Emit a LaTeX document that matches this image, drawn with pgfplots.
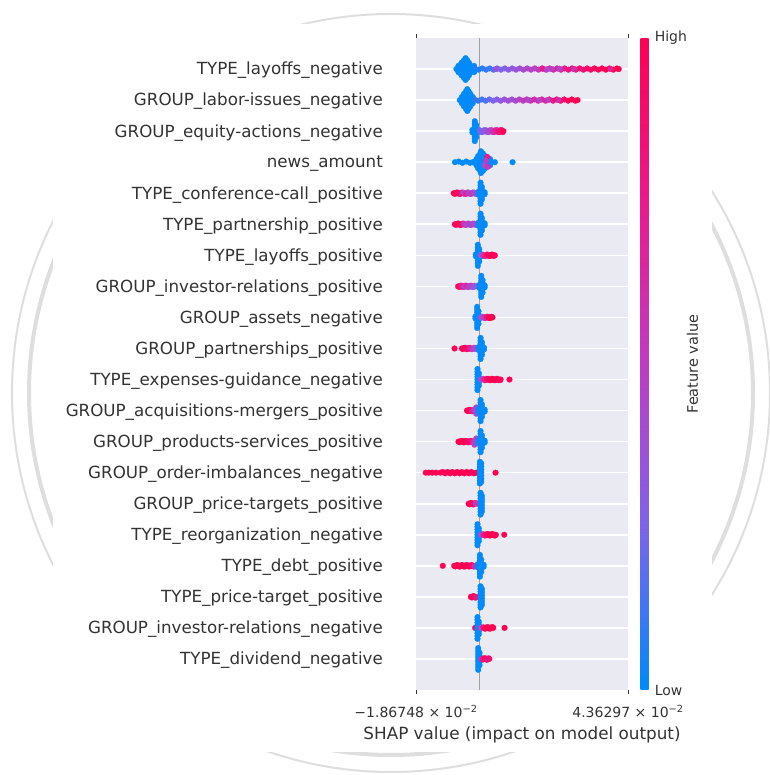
\documentclass[border=0pt]{standalone}
\usepackage{pgfplots}
\pgfplotsset{compat=1.18}
\usepackage{fontspec}
\setmainfont{DejaVu Sans}
\definecolor{txt}{HTML}{333333}
\definecolor{panel}{HTML}{EAEAF2}
\definecolor{ring}{HTML}{DEDEDE}
\definecolor{zeroline}{HTML}{A0A0A0}
\definecolor{lowblue}{RGB}{0,138,250}
\pgfplotsset{
  colormap={shapredblue}{rgb255(0)=(0,138,250) rgb255(0.25)=(125,100,235) rgb255(0.5)=(190,60,195) rgb255(0.75)=(235,25,140) rgb255(1)=(255,0,82)},
  bee/.style={scatter, only marks, mark=*, mark size=2.9pt, scatter src=explicit,
    scatter/use mapped color={draw=mapped color, fill=mapped color}, mark options={line width=0.2pt}},
  low/.style={only marks, mark=*, mark size=2.9pt, color=lowblue, mark options={line width=0.2pt}},
}
\begin{document}
\begin{tikzpicture}
\path[use as bounding box] (0pt,0pt) rectangle (769pt,775pt);
% ring decoration behind the chart panel
\draw[ring, line width=2pt] (391pt,382pt) circle[radius=379pt];
\draw[ring, line width=4pt] (391pt,382pt) circle[radius=362pt];
\fill[white] (53pt,23pt) rectangle (712pt,751pt);
\begin{axis}[
  at={(416pt,85pt)}, anchor=south west, scale only axis, width=212pt, height=652pt,
  xmin=-18.6748, xmax=43.6297, ymin=0, ymax=21,
  point meta min=0, point meta max=1,
  colormap name=shapredblue,
  axis background/.style={fill=panel},
  axis line style={draw=none},
  tick align=outside, major tick length=4pt,
  xtick={-18.6748,43.6297},
  xticklabels={{−1.86748 × 10\textsuperscript{−2}},{4.36297 × 10\textsuperscript{−2}}},
  xtick style={draw=txt, line width=0.9pt},
  ytick style={draw=none},
  ytick={1,...,20},
  yticklabels={TYPE\_dividend\_negative, GROUP\_investor-relations\_negative, TYPE\_price-target\_positive, TYPE\_debt\_positive, TYPE\_reorganization\_negative, GROUP\_price-targets\_positive, GROUP\_order-imbalances\_negative, GROUP\_products-services\_positive, GROUP\_acquisitions-mergers\_positive, TYPE\_expenses-guidance\_negative, GROUP\_partnerships\_positive, GROUP\_assets\_negative, GROUP\_investor-relations\_positive, TYPE\_layoffs\_positive, TYPE\_partnership\_positive, TYPE\_conference-call\_positive, news\_amount, GROUP\_equity-actions\_negative, GROUP\_labor-issues\_negative, TYPE\_layoffs\_negative},
  yticklabel style={font=\fontsize{16.7}{20}\selectfont, text=txt, anchor=east, inner sep=0pt, xshift=-29pt, yshift=-1.5pt},
  xticklabel style={font=\fontsize{14}{17}\selectfont, text=txt, anchor=base, inner sep=0pt, yshift=-24pt},
  xlabel={SHAP value (impact on model output)},
  xlabel style={font=\fontsize{16.8}{20}\selectfont, text=txt, at={(axis description cs:0.5,0)}, anchor=base, inner sep=0pt, yshift=-49pt},
  ymajorgrids, grid style={draw=white, line width=1.6pt},
  colorbar,
  colorbar style={
    at={(parent axis.north east)}, anchor=north west, xshift=4pt,
    width=8pt, scale only axis,
    axis line style={draw=none}, major tick length=0pt,
    ytick={0,1}, yticklabels={Low,High},
    yticklabel style={font=\fontsize{14}{17}\selectfont, text=txt, inner sep=0pt, xshift=6pt},
    ylabel={Feature value},
    ylabel style={font=\fontsize{14.5}{17}\selectfont, text=txt, at={(axis description cs:6.5,0.5)}, anchor=center},
  },
]
% zero reference line
\addplot[zeroline, line width=1.6pt] coordinates {(0,0) (0,21)};

% TYPE_layoffs_negative
\addplot[low] coordinates {(-6.8,20) (-5.6,20) (-4.4,20) (-3.2,20) (-2.0,20)
 (-6.2,20.1) (-5.0,20.1) (-3.8,20.1) (-2.6,20.1) (-1.6,20.1) (-6.2,19.9) (-5.0,19.9) (-3.8,19.9) (-2.6,19.9) (-1.6,19.9)
 (-5.3,20.2) (-4.2,20.2) (-3.1,20.2) (-5.3,19.8) (-4.2,19.8) (-3.1,19.8)
 (-4.6,20.28) (-3.6,20.28) (-4.6,19.72) (-3.6,19.72) (-4.1,20.35) (-4.1,19.65)};
\addplot[bee] coordinates {(-1.4,20.02)[0.05] (-0.3,19.98)[0.05] (0.8,20.02)[0.08] (1.9,19.98)[0.1] (3.0,20.02)[0.12] (4.1,19.98)[0.15] (5.2,20.02)[0.2] (6.3,19.98)[0.25] (7.4,20.02)[0.28] (8.5,19.98)[0.3] (9.6,20.02)[0.32] (10.7,19.98)[0.35] (11.8,20.02)[0.38] (12.9,19.98)[0.42] (14.0,20.02)[0.45] (15.1,19.98)[0.47] (16.2,20.02)[0.48] (17.3,19.98)[0.52] (18.4,20.02)[0.6] (19.5,19.98)[0.65] (20.6,20.02)[0.62] (21.7,19.98)[0.7] (22.8,20.02)[0.68] (23.9,19.98)[0.72] (25.0,20.02)[0.75] (26.1,19.98)[0.8] (27.2,20.02)[0.82] (28.3,19.98)[0.85] (29.4,20.02)[0.88] (30.5,19.98)[0.86] (31.6,20.02)[0.9] (32.7,19.98)[0.93] (33.8,20.02)[0.95] (34.9,19.98)[0.97] (36.0,20.02)[0.98] (37.1,19.98)[1] (38.2,20.02)[1] (39.3,19.98)[1] (40.4,20.02)[1] (40.9,20)[1]
 (4.9,20)[0.35] (18.6,20.01)[0.78] (19.8,19.99)[0.45] (21.2,20)[0.5] (23.5,20.01)[0.45] (27.8,20)[0.6] (38.5,20)[0.7]};

% GROUP_labor-issues_negative
\addplot[low] coordinates {(-5.8,19) (-4.7,19) (-3.6,19) (-2.5,19)
 (-5.2,19.1) (-4.1,19.1) (-3.0,19.1) (-2.0,19.1) (-5.2,18.9) (-4.1,18.9) (-3.0,18.9) (-2.0,18.9)
 (-4.6,19.2) (-3.6,19.2) (-2.7,19.2) (-4.6,18.8) (-3.6,18.8) (-2.7,18.8)
 (-4.0,19.28) (-3.2,19.28) (-4.0,18.72) (-3.2,18.72) (-3.6,19.35) (-3.6,18.65)};
\addplot[bee] coordinates {(-1.5,19.02)[0.08] (-0.4,18.98)[0.1] (0.7,19.02)[0.12] (1.8,18.98)[0.15] (2.9,19.02)[0.2] (4.0,18.98)[0.25] (5.1,19.02)[0.28] (6.2,18.98)[0.32] (7.3,19.02)[0.35] (8.4,18.98)[0.38] (9.5,19.02)[0.4] (10.6,18.98)[0.42] (11.7,19.02)[0.45] (12.8,18.98)[0.5] (13.9,19.02)[0.58] (15.0,18.98)[0.62] (16.1,19.02)[0.6] (17.2,18.98)[0.65] (18.3,19.02)[0.68] (19.4,18.98)[0.7] (20.5,19.02)[0.72] (21.6,18.98)[0.75] (22.7,19.02)[0.85] (23.8,18.98)[0.9] (24.9,19.02)[0.92] (26.0,18.98)[0.95] (27.1,19.02)[1] (28.2,18.98)[1] (28.8,19)[1]
 (14.4,19)[0.45] (17.6,19)[0.45] (20.0,19)[0.5] (23.2,19)[0.6]};

% GROUP_equity-actions_negative
\addplot[low] coordinates {(-1.4,17.68) (-1.4,17.76) (-1.4,17.84) (-1.4,17.92) (-1.4,18) (-1.4,18.08) (-1.4,18.16) (-1.4,18.24) (-1.4,18.32)
 (-1.0,17.8) (-1.0,17.9) (-1.0,18) (-1.0,18.1) (-1.0,18.2) (-2.1,18.04) (-2.1,17.96)};
\addplot[bee] coordinates {(0,18.03)[0.2] (0.9,17.97)[0.3] (1.8,18.03)[0.35] (2.7,17.97)[0.4] (3.5,18.03)[0.55] (4.3,17.97)[0.65] (5.1,18.03)[0.72] (5.9,17.97)[0.85] (6.5,18.03)[0.95] (7.0,18)[1]
 (0.45,17.97)[0.25] (1.35,18.03)[0.32] (2.25,17.97)[0.38] (3.1,18.03)[0.45] (3.9,17.97)[0.6] (4.7,18.03)[0.7] (5.5,17.97)[0.8] (6.2,18.03)[0.9] (6.8,17.97)[1]};

% news_amount
\addplot[low] coordinates {(-7.2,17) (-6.1,17.02) (-5.0,16.98) (-3.9,17.02) (-2.8,16.98) (-2.0,17)
 (-1.5,17) (-0.5,17) (0.5,17) (1.5,17) (2.5,17) (3.5,17) (4.5,17)
 (-0.9,17.1) (0.1,17.1) (1.1,17.1) (2.1,17.1) (3.1,17.1) (-0.9,16.9) (0.1,16.9) (1.1,16.9) (2.1,16.9) (3.1,16.9)
 (-0.4,17.2) (0.6,17.2) (1.6,17.2) (-0.4,16.8) (0.6,16.8) (1.6,16.8)
 (0.2,17.28) (1.0,17.28) (0.2,16.72) (1.0,16.72) (0.4,17.35) (0.4,16.65) (9.7,17)};
\addplot[bee] coordinates {(2.25,17.17)[0.75] (1.5,16.9)[0.4] (2.45,16.85)[0.55] (1.9,17.05)[0.5]};

% TYPE_conference-call_positive
\addplot[bee] coordinates {(-7.6,16)[1] (-6.8,16.02)[1] (-6.0,15.98)[0.95] (-5.2,16.02)[0.8] (-4.4,15.98)[0.7] (-3.6,16.02)[0.75] (-2.8,15.98)[0.6] (-2.0,16.02)[0.5] (-1.2,15.98)[0.35] (-0.5,16)[0.2]
 (-7.2,15.98)[1] (-6.4,16.02)[0.95] (-5.6,15.98)[0.85] (-4.8,16.02)[0.45] (-4.0,15.98)[0.7] (-3.2,16.02)[0.45] (-2.4,15.98)[0.55] (-1.6,16.02)[0.4]};
\addplot[low] coordinates {(0.3,15.66) (0.3,15.745) (0.3,15.83) (0.3,15.915) (0.3,16) (0.3,16.085) (0.3,16.17) (0.3,16.255) (0.3,16.34)
 (0.7,15.8) (0.7,15.9) (0.7,16) (0.7,16.1) (0.7,16.2) (1.5,16.03) (1.5,15.97) (-0.3,16.05) (-0.3,15.95)};

% TYPE_partnership_positive
\addplot[bee] coordinates {(-7.25,15)[1] (-6.5,15.02)[1] (-5.75,14.98)[1] (-5.0,15.02)[0.85] (-4.25,14.98)[0.5] (-3.5,15.02)[0.45] (-2.75,14.98)[0.6] (-2.0,15.02)[0.45] (-1.25,14.98)[0.35] (-0.6,15)[0.2]
 (-6.9,14.98)[1] (-6.1,15.02)[0.95] (-5.4,14.98)[0.9] (-4.6,15.02)[0.55] (-3.9,14.98)[0.4] (-3.1,15.02)[0.5] (-2.4,14.98)[0.45] (-1.6,15.02)[0.4]};
\addplot[low] coordinates {(0.3,14.66) (0.3,14.745) (0.3,14.83) (0.3,14.915) (0.3,15) (0.3,15.085) (0.3,15.17) (0.3,15.255) (0.3,15.34)
 (0.7,14.8) (0.7,14.9) (0.7,15) (0.7,15.1) (0.7,15.2) (1.5,15.03) (1.5,14.97) (-0.3,15.05) (-0.3,14.95)};

% TYPE_layoffs_positive
\addplot[low] coordinates {(-0.5,13.66) (-0.5,13.745) (-0.5,13.83) (-0.5,13.915) (-0.5,14) (-0.5,14.085) (-0.5,14.17) (-0.5,14.255) (-0.5,14.34)
 (-0.1,13.8) (-0.1,13.9) (-0.1,14) (-0.1,14.1) (-0.1,14.2) (-1.1,14.03) (-1.1,13.97) (0.5,14.03) (0.5,13.97)};
\addplot[bee] coordinates {(0.3,14)[0.3] (1.0,14.02)[0.5] (1.7,13.98)[0.85] (2.4,14.02)[0.95] (3.1,13.98)[1] (3.8,14.02)[1] (4.5,14)[1]
 (1.4,13.98)[0.7] (2.1,14.02)[0.9] (2.8,13.98)[1] (3.5,14.02)[1] (4.2,13.98)[0.95]};

% GROUP_investor-relations_positive
\addplot[bee] coordinates {(-6.3,13)[1] (-5.6,13.02)[0.95] (-4.9,12.98)[0.8] (-4.2,13.02)[0.6] (-3.5,12.98)[0.45] (-2.8,13.02)[0.55] (-2.1,12.98)[0.4] (-1.4,13.02)[0.35] (-0.7,13)[0.25]
 (-5.9,12.98)[0.9] (-5.2,13.02)[0.7] (-4.5,12.98)[0.5] (-3.8,13.02)[0.65] (-3.1,12.98)[0.45] (-2.4,13.02)[0.5] (-1.7,12.98)[0.3]};
\addplot[low] coordinates {(0.5,12.66) (0.5,12.745) (0.5,12.83) (0.5,12.915) (0.5,13) (0.5,13.085) (0.5,13.17) (0.5,13.255) (0.5,13.34)
 (0.9,12.8) (0.9,12.9) (0.9,13) (0.9,13.1) (0.9,13.2) (1.5,13.03) (1.5,12.97) (0.0,13.05) (0.0,12.95)};

% GROUP_assets_negative
\addplot[low] coordinates {(-0.7,11.66) (-0.7,11.745) (-0.7,11.83) (-0.7,11.915) (-0.7,12) (-0.7,12.085) (-0.7,12.17) (-0.7,12.255) (-0.7,12.34)
 (-0.3,11.8) (-0.3,11.9) (-0.3,12) (-0.3,12.1) (-0.3,12.2) (-1.2,12.03) (-1.2,11.97)};
\addplot[bee] coordinates {(0.3,12)[0.3] (1.0,12.02)[0.45] (1.7,11.98)[0.7] (2.4,12.02)[0.9] (3.1,11.98)[1] (3.8,12)[1]
 (1.4,11.98)[0.55] (2.1,12.02)[0.85] (2.8,11.98)[1] (3.5,12.02)[1]};

% GROUP_partnerships_positive
\addplot[bee] coordinates {(-7.35,11)[1] (-5.2,11)[1] (-4.5,11.02)[1] (-3.8,10.98)[0.95] (-3.1,11.02)[0.85] (-2.4,10.98)[0.55] (-1.7,11.02)[0.45] (-1.0,10.98)[0.35] (-0.4,11)[0.2]
 (-4.85,10.98)[1] (-4.15,11.02)[0.95] (-3.45,10.98)[0.9] (-2.75,11.02)[0.7] (-2.05,10.98)[0.5] (-1.35,11.02)[0.4]};
\addplot[low] coordinates {(0.3,10.66) (0.3,10.745) (0.3,10.83) (0.3,10.915) (0.3,11) (0.3,11.085) (0.3,11.17) (0.3,11.255) (0.3,11.34)
 (0.7,10.8) (0.7,10.9) (0.7,11) (0.7,11.1) (0.7,11.2) (1.3,11.03) (1.3,10.97) (-0.2,11.05) (-0.2,10.95)};

% TYPE_expenses-guidance_negative
\addplot[low] coordinates {(-0.6,9.66) (-0.6,9.745) (-0.6,9.83) (-0.6,9.915) (-0.6,10) (-0.6,10.085) (-0.6,10.17) (-0.6,10.255) (-0.6,10.34)
 (-0.2,9.8) (-0.2,9.9) (-0.2,10) (-0.2,10.1) (-0.2,10.2)};
\addplot[bee] coordinates {(0.4,10)[0.35] (1.1,10.02)[0.55] (1.8,9.98)[0.85] (2.5,10.02)[0.95] (3.2,9.98)[1] (3.9,10.02)[1] (4.6,9.98)[1] (5.3,10.02)[1] (6.0,9.98)[1] (6.2,10)[0.95]
 (1.45,9.98)[0.7] (2.15,10.02)[0.9] (2.85,9.98)[1] (3.55,10.02)[1] (4.25,9.98)[1] (4.95,10.02)[1] (5.65,9.98)[1] (8.8,10)[1]};

% GROUP_acquisitions-mergers_positive
\addplot[bee] coordinates {(-3.7,9)[1] (-3.1,9.02)[1] (-2.5,8.98)[0.9] (-1.9,9.02)[0.6] (-1.3,8.98)[0.45] (-0.7,9)[0.35]
 (-3.4,8.98)[1] (-2.8,9.02)[0.95] (-2.2,8.98)[0.75] (-1.6,9.02)[0.5] (-1.0,8.98)[0.4] (-1.0,9.1)[0.4] (-1.0,8.9)[0.4]};
\addplot[low] coordinates {(0.3,8.66) (0.3,8.745) (0.3,8.83) (0.3,8.915) (0.3,9) (0.3,9.085) (0.3,9.17) (0.3,9.255) (0.3,9.34)
 (0.7,8.8) (0.7,8.9) (0.7,9) (0.7,9.1) (0.7,9.2) (1.5,9.03) (1.5,8.97) (-0.3,9.05) (-0.3,8.95)};

% GROUP_products-services_positive
\addplot[bee] coordinates {(-6.2,8)[1] (-5.5,8.02)[1] (-4.8,7.98)[1] (-4.1,8.02)[1] (-3.4,7.98)[0.95] (-2.7,8.02)[0.9] (-2.0,7.98)[0.6] (-1.3,8.02)[0.45] (-0.7,8)[0.35]
 (-5.85,7.98)[1] (-5.15,8.02)[1] (-4.45,7.98)[1] (-3.75,8.02)[0.95] (-3.05,7.98)[0.9] (-2.35,8.02)[0.8] (-1.65,7.98)[0.5] (-1.0,8.02)[0.4] (-1.0,8.1)[0.45] (-1.5,7.9)[0.45]};
\addplot[low] coordinates {(0.3,7.66) (0.3,7.745) (0.3,7.83) (0.3,7.915) (0.3,8) (0.3,8.085) (0.3,8.17) (0.3,8.255) (0.3,8.34)
 (0.7,7.8) (0.7,7.9) (0.7,8) (0.7,8.1) (0.7,8.2) (1.5,8.03) (1.5,7.97) (-0.3,8.05) (-0.3,7.95)};

% GROUP_order-imbalances_negative
\addplot[bee] coordinates {(-15.8,7)[1] (-14.9,7)[1] (-13.9,7)[1] (-12.8,7)[1] (-11.5,7)[1] (-10.8,7.02)[1] (-10.1,6.98)[1] (-9.4,7.02)[1] (-8.7,6.98)[1] (-8.0,7.02)[1] (-7.3,6.98)[1] (-6.6,7.02)[1] (-5.9,6.98)[1] (-5.2,7.02)[1] (-4.5,6.98)[1] (-3.8,7.02)[1] (-3.1,6.98)[1] (-2.4,7.02)[1] (-1.7,6.98)[1] (-1.0,7)[0.95] (4.7,7)[1]};
\addplot[low] coordinates {(0.1,6.65) (0.1,6.74) (0.1,6.83) (0.1,6.915) (0.1,7) (0.1,7.085) (0.1,7.17) (0.1,7.26) (0.1,7.35)
 (0.5,6.7) (0.5,6.8) (0.5,6.9) (0.5,7) (0.5,7.1) (0.5,7.2) (0.5,7.3)};

% GROUP_price-targets_positive
\addplot[bee] coordinates {(-3.2,6)[1] (-2.6,6.02)[1] (-2.0,5.98)[0.95] (-1.4,6.02)[0.7] (-0.8,6)[0.45]
 (-2.9,5.98)[1] (-2.3,6.02)[1] (-1.7,5.98)[0.85] (-1.1,6.02)[0.55]};
\addplot[low] coordinates {(0.3,5.65) (0.3,5.74) (0.3,5.83) (0.3,5.915) (0.3,6) (0.3,6.085) (0.3,6.17) (0.3,6.26) (0.3,6.35)
 (0.7,5.75) (0.7,5.85) (0.7,5.95) (0.7,6.05) (0.7,6.15) (0.7,6.25)};

% TYPE_reorganization_negative
\addplot[low] coordinates {(-0.6,4.66) (-0.6,4.745) (-0.6,4.83) (-0.6,4.915) (-0.6,5) (-0.6,5.085) (-0.6,5.17) (-0.6,5.255) (-0.6,5.34)
 (-0.2,4.8) (-0.2,4.9) (-0.2,5) (-0.2,5.1) (-0.2,5.2)};
\addplot[bee] coordinates {(0.4,5)[0.35] (1.1,5.02)[0.6] (1.8,4.98)[0.9] (2.5,5.02)[1] (3.2,4.98)[1] (3.9,5.02)[1] (4.6,4.98)[1] (4.8,5)[0.95]
 (1.45,4.98)[0.8] (2.15,5.02)[0.95] (2.85,4.98)[1] (3.55,5.02)[1] (4.25,4.98)[1] (7.25,5)[1]};

% TYPE_debt_positive
\addplot[bee] coordinates {(-10.8,4)[1] (-7.45,4)[1] (-6.75,4.02)[1] (-6.05,3.98)[1] (-5.35,4.02)[1] (-4.65,3.98)[1] (-3.95,4.02)[1] (-3.25,3.98)[1] (-2.55,4.02)[0.95] (-1.85,3.98)[0.85] (-1.15,4)[0.5]
 (-7.1,3.98)[1] (-6.4,4.02)[1] (-5.7,3.98)[1] (-5.0,4.02)[1] (-4.3,3.98)[1] (-3.6,4.02)[1] (-2.9,3.98)[0.95] (-2.2,4.02)[0.9] (-1.5,3.98)[0.6]};
\addplot[low] coordinates {(0.1,3.65) (0.1,3.74) (0.1,3.83) (0.1,3.915) (0.1,4) (0.1,4.085) (0.1,4.17) (0.1,4.26) (0.1,4.35)
 (0.5,3.8) (0.5,3.9) (0.5,4) (0.5,4.1) (0.5,4.2) (1.2,4.03) (1.2,3.97) (-0.5,4.05) (-0.5,3.95)};

% TYPE_price-target_positive
\addplot[bee] coordinates {(-2.55,3)[1] (-1.95,3.02)[1] (-1.35,2.98)[0.9] (-0.75,3)[0.6]
 (-2.25,2.98)[1] (-1.65,3.02)[0.95] (-1.05,2.98)[0.8]};
\addplot[low] coordinates {(0.3,2.66) (0.3,2.745) (0.3,2.83) (0.3,2.915) (0.3,3) (0.3,3.085) (0.3,3.17) (0.3,3.255) (0.3,3.34)
 (0.7,2.75) (0.7,2.85) (0.7,2.95) (0.7,3.05) (0.7,3.15) (0.7,3.25)};

% GROUP_investor-relations_negative
\addplot[bee] coordinates {(-1.3,2)[1]};
\addplot[low] coordinates {(-0.6,1.65) (-0.6,1.74) (-0.6,1.83) (-0.6,1.915) (-0.6,2) (-0.6,2.085) (-0.6,2.17) (-0.6,2.26) (-0.6,2.35)
 (-0.2,1.8) (-0.2,1.9) (-0.2,2) (-0.2,2.1) (-0.2,2.2)};
\addplot[bee] coordinates {(0.4,2)[0.4] (1.1,2.02)[0.8] (1.8,1.98)[1] (2.5,2.02)[1] (3.2,1.98)[1] (3.9,2.02)[1] (4.0,2)[1]
 (1.45,1.98)[0.95] (2.15,2.02)[1] (2.85,1.98)[1] (3.55,2.02)[1] (7.35,2)[1]};

% TYPE_dividend_negative
\addplot[low] coordinates {(-0.4,0.65) (-0.4,0.74) (-0.4,0.83) (-0.4,0.915) (-0.4,1) (-0.4,1.085) (-0.4,1.17) (-0.4,1.26) (-0.4,1.35)
 (0.0,0.8) (0.0,0.9) (0.0,1) (0.0,1.1) (0.0,1.2)};
\addplot[bee] coordinates {(0.6,1)[0.6] (1.3,1.02)[0.85] (2.0,0.98)[0.9] (2.7,1.02)[0.85] (2.85,1)[0.9]
 (0.95,0.98)[0.8] (1.65,1.02)[0.9] (2.35,0.98)[0.85]};
\end{axis}
\end{tikzpicture}
\end{document}
